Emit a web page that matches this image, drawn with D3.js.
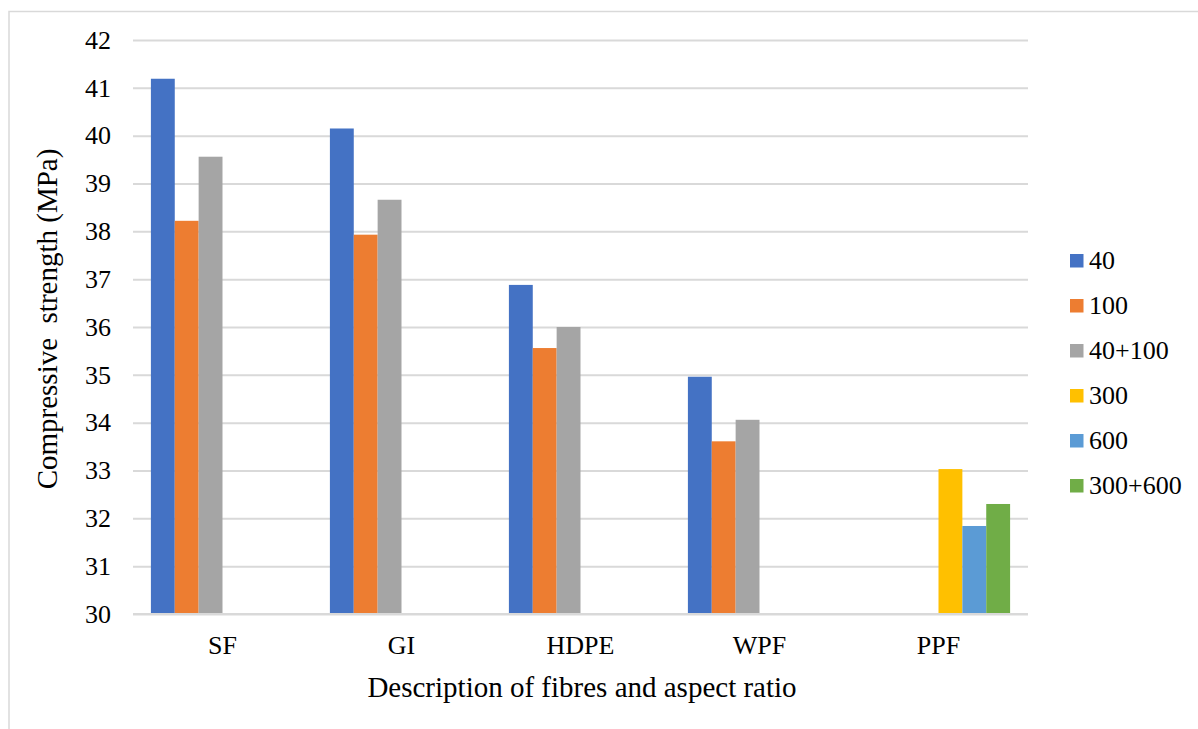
<!DOCTYPE html>
<html><head><meta charset="utf-8">
<script src="https://cdn.jsdelivr.net/npm/d3@7"></script>
<style>body{margin:0;background:#fff;} svg{display:block;}</style>
</head><body>
<svg id="chart" width="1198" height="729"></svg>
<script>
const categories = ["SF", "GI", "HDPE", "WPF", "PPF"];
const seriesNames = ["40", "100", "40+100", "300", "600", "300+600"];
const seriesColors = ["#4472C4", "#ED7D31", "#A5A5A5", "#FFC000", "#5B9BD5", "#70AD47"];
const s40     = [41.19, 40.15, 36.88, 34.96, null];
const s100    = [38.22, 37.93, 35.56, 33.61, null];
const s40_100 = [39.56, 38.66, 36.00, 34.06, null];
const s300    = [null, null, null, null, 33.03];
const s600    = [null, null, null, null, 31.84];
const s300_600= [null, null, null, null, 32.30];
const seriesValues = [s40, s100, s40_100, s300, s600, s300_600];
const yTicks = [30,31,32,33,34,35,36,37,38,39,40,41,42];

(function () {
const svg = d3.select("#chart");
const font = "'Liberation Serif', 'Times New Roman', serif";
const fs = 26;
const fsTitle = 29;

// outer border
svg.append("rect").attr("x", 9).attr("y", 11.5).attr("width", 1400).attr("height", 1000)
  .attr("fill", "none").attr("stroke", "#d9d9d9").attr("stroke-width", 1.5);

const pL = 133, pR = 1028, pT = 40, pB = 614;
const x = d3.scaleBand().domain(categories).range([pL, pR]).paddingInner(0).paddingOuter(0);
const y = d3.scaleLinear().domain([30, 42]).range([pB, pT]);
const gap = 1.5; // Excel gap width 150%
const bw = x.bandwidth() / (seriesNames.length + gap);
const xs = d3.scaleBand().domain(seriesNames).range([bw * gap / 2, x.bandwidth() - bw * gap / 2]).padding(0);

// gridlines
const yAxis = d3.axisLeft(y).tickValues(yTicks).tickSize(-(pR - pL)).tickFormat(d3.format("d")).tickPadding(22);
const gy = svg.append("g").attr("transform", `translate(${pL},0)`).call(yAxis);
gy.select(".domain").remove();
gy.selectAll(".tick line").attr("stroke", "#d9d9d9").attr("stroke-width", 2);
gy.selectAll(".tick text").attr("font-family", font).attr("font-size", fs).attr("fill", "#000");

// bars
seriesNames.forEach((name, si) => {
  svg.append("g").selectAll("rect")
    .data(categories.map((c, i) => ({c, v: seriesValues[si][i]})).filter(d => d.v != null))
    .join("rect")
    .attr("x", d => x(d.c) + xs(name))
    .attr("width", xs.bandwidth())
    .attr("y", d => y(d.v))
    .attr("height", d => y(30) - y(d.v))
    .attr("fill", seriesColors[si]);
});

// baseline
svg.append("line").attr("x1", pL).attr("x2", pR).attr("y1", y(30)).attr("y2", y(30))
  .attr("stroke", "#d9d9d9").attr("stroke-width", 2);

// x labels
const xAxis = d3.axisBottom(x).tickSize(0).tickPadding(22);
const gx = svg.append("g").attr("transform", `translate(0,${pB})`).call(xAxis);
gx.select(".domain").remove();
gx.selectAll(".tick text").attr("font-family", font).attr("font-size", fs).attr("fill", "#000");

// axis titles
svg.append("text").attr("x", 582).attr("y", 697).attr("text-anchor", "middle")
  .attr("font-family", font).attr("font-size", fsTitle).attr("fill", "#000")
  .text("Description of fibres and aspect ratio");
svg.append("text").attr("transform", `translate(57,319) rotate(-90)`)
  .attr("text-anchor", "middle").attr("font-family", font).attr("font-size", fsTitle).attr("fill", "#000")
  .style("white-space", "pre")
  .text("Compressive  strength (MPa)");

// legend
const lg = svg.append("g");
seriesNames.forEach((name, i) => {
  const cy = 260.5 + i * 45;
  lg.append("rect").attr("x", 1070).attr("y", cy - 6.5).attr("width", 13.5).attr("height", 13.5).attr("fill", seriesColors[i]);
  lg.append("text").attr("x", 1089).attr("y", cy + 8.5).attr("font-family", font).attr("font-size", fs)
    .attr("fill", "#000").text(name);
});
})();
</script>
</body></html>
